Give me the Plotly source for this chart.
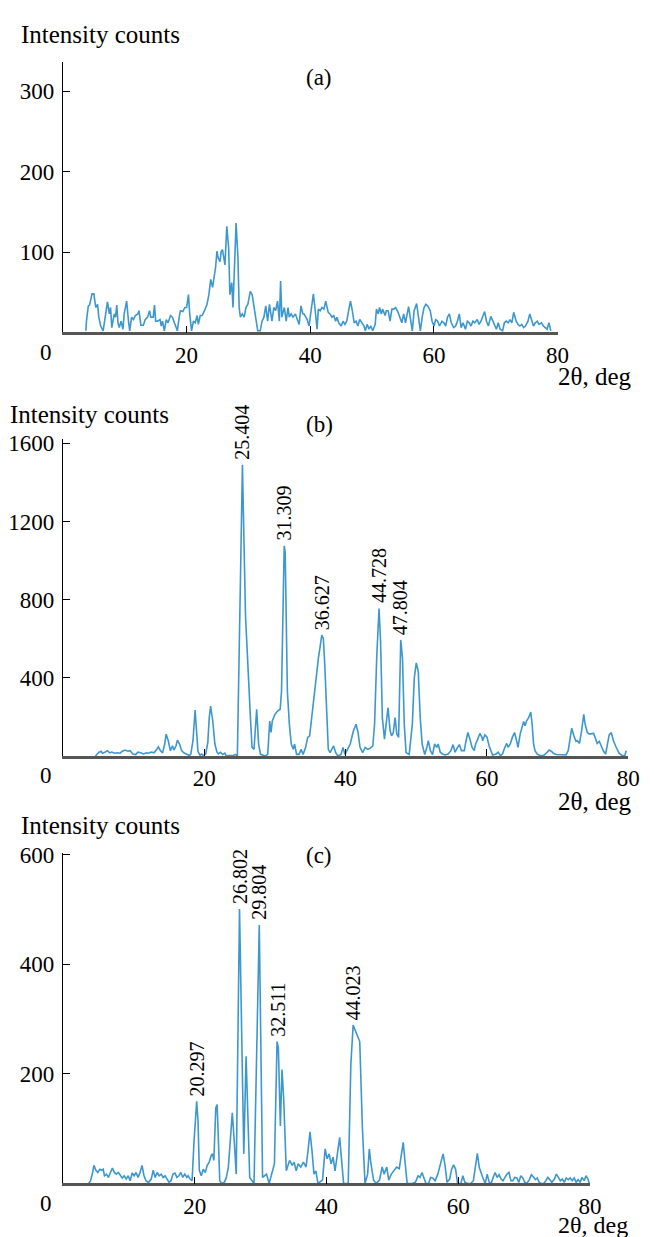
import plotly.graph_objects as go

# the page body has an 8px default margin; shift the figure content to compensate
W, H = 654, 1237
OFF = 8
FW, FH = W - OFF, H - OFF

# ---------------- data ----------------
a_x = [3.7,3.8,4.1,4.3,4.7,5.0,5.3,5.6,5.8,6.1,6.5,6.9,7.2,7.5,7.7,7.9,8.3,8.5,8.7,8.9,9.1,9.4,9.7,9.9,
       10.3,10.6,10.8,11.1,11.4,11.7,12.1,12.3,12.6,13.0,13.3,13.7,14.0,14.2,14.6,14.8,15.0,15.3,15.7,15.9,
       16.1,16.4,16.7,17.0,17.4,17.7,18.0,18.2,18.5,18.8,19.0,19.4,19.7,20.0,20.3,20.5,20.8,21.1,21.4,21.7,
       21.9,22.2,22.5,22.9,23.3,23.6,23.9,24.2,24.4,24.7,24.9,25.1,25.4,25.6,25.8,26.0,26.2,26.5,26.8,27.0,
       27.3,27.5,27.7,28.0,28.3,28.5,28.7,29.0,29.3,29.6,29.9,30.3,30.6,30.9,31.2,31.5,31.9,32.2,32.5,32.8,
       33.1,33.4,33.8,34.1,34.4,34.7,35.0,35.2,35.4,35.8,36.1,36.4,36.6,36.9,37.2,37.6,37.9,38.2,38.5,38.8,
       39.0,39.5,39.8,40.2,40.5,40.8,41.1,41.3,41.6,41.9,42.2,42.5,42.9,43.2,43.5,43.8,44.1,44.3,44.6,45.0,
       45.3,45.6,45.9,46.2,46.5,46.8,47.1,47.4,47.7,48.0,48.4,48.7,48.9,49.2,49.5,49.8,50.1,50.5,50.7,51.0,
       51.2,51.5,51.7,52.1,52.3,52.6,52.9,53.2,53.5,53.8,54.2,54.5,54.8,55.1,55.4,55.9,56.2,56.5,56.8,57.2,
       57.5,57.8,58.1,58.4,58.7,59.0,59.4,59.7,60.0,60.3,60.6,60.9,61.3,61.6,61.9,62.2,62.5,62.8,63.2,63.5,
       63.8,64.1,64.4,64.7,65.1,65.4,65.7,66.0,66.3,66.6,67.0,67.3,67.6,67.9,68.2,68.5,68.8,69.2,69.5,69.8,
       70.1,70.4,70.7,71.1,71.4,71.7,72.0,72.3,72.6,72.9,73.3,73.6,73.9,74.2,74.5,74.8,75.2,75.5,75.8,76.1,
       76.4,76.7,77.0,77.4,77.7,78.0,78.3,78.6,78.9]
a_y = [2,14,33,34,48,48,31,35,19,8,2,23,38,23,31,6,23,19,34,12,6,14,4,23,
       39,14,2,19,16,21,23,27,9,9,16,19,27,19,19,34,14,14,16,8,
       14,2,16,12,21,19,12,10,2,19,27,26,31,31,47,23,2,14,12,21,
       10,21,21,27,35,47,66,56,66,82,101,93,88,101,103,93,84,132,105,47,
       62,31,80,136,93,31,19,23,19,31,35,51,47,31,19,2,2,14,19,33,
       14,35,14,31,27,39,14,64,19,31,14,31,19,23,19,23,16,10,33,23,
       23,16,8,31,48,27,4,29,27,31,29,39,25,23,19,21,14,19,12,8,
       14,10,14,27,39,27,12,14,8,16,12,8,2,10,4,8,2,10,29,23,
       31,23,29,21,27,27,14,29,29,31,25,19,12,23,12,32,19,2,27,36,
       19,2,19,31,35,33,27,14,8,16,14,8,14,12,8,19,23,12,6,8,
       14,23,6,12,4,14,12,8,14,12,16,10,14,19,26,14,8,20,14,8,
       4,12,4,2,12,14,12,16,12,25,14,10,8,10,6,8,14,23,14,8,
       12,14,10,12,8,6,4,12,2]

b_x = [4.6,5.1,5.4,5.6,6.0,6.3,6.6,6.9,7.3,7.7,8.1,8.4,8.8,9.2,9.5,9.9,10.3,10.6,11.0,11.4,11.8,12.1,12.5,
       12.9,13.2,13.5,13.8,14.1,14.4,14.6,14.9,15.2,15.5,15.7,16.0,16.2,16.5,16.8,17.1,17.5,17.9,18.1,18.4,
       18.7,18.9,19.1,19.4,19.6,19.9,20.2,20.5,20.7,20.9,21.2,21.5,21.8,22.0,22.3,22.6,22.9,23.1,23.6,24.1,
       24.4,24.68,25.4,25.83,26.53,26.76,27.04,27.41,27.69,27.96,28.61,28.98,29.26,29.44,29.63,30.0,30.37,
       30.74,30.93,31.11,31.31,31.45,31.6,31.76,32.04,32.31,32.59,32.78,33.06,33.43,33.7,33.98,34.35,34.63,
       34.91,35.2,35.7,36.15,36.63,36.85,37.05,37.35,37.55,37.8,38.3,38.6,38.9,39.35,39.63,39.91,40.65,41.11,
       41.48,41.76,42.04,42.41,42.78,43.15,43.5,43.85,44.1,44.4,44.73,44.95,45.2,45.5,45.75,46.0,46.3,46.5,
       46.75,47.0,47.25,47.5,47.8,48.05,48.3,48.55,49.0,49.44,49.72,50.0,50.28,50.56,50.83,51.2,51.5,51.7,
       52.0,52.3,52.6,52.9,53.1,53.4,53.7,54.1,54.5,54.9,55.2,55.5,55.8,56.1,56.4,56.8,57.0,57.3,57.6,57.9,
       58.2,58.4,58.7,59.0,59.3,59.4,59.7,60.0,60.3,60.6,60.8,61.3,61.6,61.9,62.2,62.5,62.8,63.0,63.3,63.6,
       63.9,64.2,64.4,64.7,65.0,65.2,65.4,65.6,65.9,66.2,66.4,66.6,66.8,67.1,67.5,68.0,68.4,68.8,69.1,69.4,
       69.8,70.3,70.7,71.2,71.5,71.7,72.0,72.3,72.6,72.8,73.1,73.4,73.7,73.9,74.2,74.5,74.8,75.1,75.4,75.6,
       75.9,76.2,76.5,76.8,77.1,77.3,77.6,77.9,78.2,78.4,78.7,79.1,79.5,79.7]
b_y = [0,19,24,14,20,27,16,20,14,16,14,24,30,24,27,10,7,19,16,10,16,14,20,
       16,30,47,27,16,61,112,78,27,52,30,52,81,61,27,16,7,2,10,78,
       235,128,24,3,10,2,10,69,196,255,179,61,19,10,19,7,14,2,2,2,
       8,0,1491,721,196,44,34,239,61,8,0,8,179,120,179,213,230,
       239,331,670,1076,1043,670,331,162,61,34,61,8,8,34,8,44,95,
       103,196,331,501,619,602,467,162,34,17,51,17,0,8,44,8,61,129,
       162,120,44,17,44,34,40,51,162,501,755,585,196,86,162,247,129,103,
       120,196,112,95,594,501,162,17,8,162,399,476,433,196,61,7,44,78,
       27,7,61,44,61,19,10,5,10,27,58,19,41,58,27,27,69,120,86,44,
       27,61,86,115,95,78,108,98,52,19,5,10,19,2,10,41,64,44,61,95,
       120,78,44,112,154,176,154,179,196,225,162,61,27,10,2,2,14,30,24,14,
       7,5,5,5,27,78,142,103,75,78,64,129,213,162,120,112,115,115,86,64,
       75,44,24,10,61,108,120,78,52,36,14,3,0,27]

c_x = [3.9,4.2,4.5,4.7,5.0,5.3,5.6,5.9,6.1,6.3,6.6,6.9,7.2,7.5,7.8,8.1,8.4,8.7,9.0,9.3,9.6,9.9,10.2,10.5,
       10.8,11.1,11.4,11.7,12.0,12.3,12.6,13.0,13.4,13.7,14.0,14.3,14.6,14.9,15.2,15.5,15.8,16.1,16.4,16.7,
       17.0,17.3,17.6,17.9,18.2,18.5,18.8,19.0,19.3,19.6,19.9,20.3,20.5,20.7,21.0,21.3,21.6,21.9,22.2,22.5,
       22.7,22.9,23.2,23.4,23.6,23.8,24.1,24.5,24.8,25.1,25.4,25.7,26.0,26.3,26.8,27.45,27.8,28.35,29.0,29.8,
       30.3,30.9,31.3,32.1,32.5,32.7,33.0,33.25,33.5,33.9,34.4,34.8,35.1,35.4,35.7,36.1,36.5,36.9,37.2,37.5,
       37.8,38.1,38.4,38.7,39.4,39.8,40.1,40.4,40.7,41.0,41.3,41.7,42.0,42.3,42.6,43.3,43.7,44.05,44.45,45.05,
       45.45,45.85,46.25,46.5,46.75,47.15,47.55,48.05,48.45,48.75,49.15,49.45,49.85,50.25,50.65,51.05,51.35,
       51.65,51.95,52.25,53.0,53.5,53.9,54.2,54.5,54.8,55.1,55.5,55.8,56.1,56.5,56.9,57.3,57.7,58.0,58.3,58.7,
       59.0,59.3,59.6,59.9,60.4,60.7,61.0,61.4,61.9,62.3,62.6,62.9,63.2,63.5,63.8,64.1,64.4,64.7,65.0,65.3,
       65.6,65.9,66.2,66.5,66.8,67.1,67.4,67.7,68.0,68.3,68.6,68.9,69.2,69.5,69.8,70.1,70.4,70.8,71.1,71.4,
       71.7,72.0,72.3,72.6,73.0,73.3,73.6,73.9,74.2,74.6,74.9,75.2,75.5,75.8,76.1,76.4,76.7,77.0,77.3,77.6,
       77.9,78.2,78.5,78.8,79.1,79.4,79.7,79.9]
c_y = [0,5,20,33,24,20,26,24,26,14,17,11,20,28,20,17,20,14,10,14,8,14,5,19,
       14,20,11,20,33,14,5,2,8,24,11,20,14,17,11,14,7,2,5,17,
       19,11,14,20,11,17,11,14,8,5,78,150,114,24,14,26,20,33,39,51,
       54,42,138,144,78,5,0,2,11,29,78,129,78,17,501,54,232,11,0,472,
       11,17,0,36,259,247,105,208,156,23,42,33,39,23,36,30,39,30,60,94,
       60,17,23,0,6,63,45,54,36,48,23,60,84,42,0,0,217,289,277,259,
       102,0,17,63,36,6,0,6,30,17,30,6,17,23,30,27,48,
       75,36,0,0,2,14,11,20,11,0,0,11,10,5,17,36,54,33,2,8,
       26,34,26,0,0,14,2,0,0,5,29,55,29,17,8,0,17,2,0,11,
       20,11,16,8,5,11,17,20,5,5,11,10,2,14,10,2,0,7,16,12,
       7,10,2,0,0,5,11,7,2,8,17,11,5,8,2,10,7,10,5,10,
       2,7,2,11,5,14,8,0]

x_ticks = [20, 40, 60, 80]
a_yticks = [100, 200, 300]
b_yticks = [400, 800, 1200, 1600]
c_yticks = [200, 400, 600]

b_peaks = [25.404, 31.309, 36.627, 44.728, 47.804]
c_peaks = [20.297, 26.802, 29.804, 32.511, 44.023]

panel_labels = ["(a)", "(b)", "(c)"]
ylabel = "Intensity counts"
xlabel = "2θ, deg"

# ---------------- figure ----------------
LINE = "#3d97cf"
SERIF = "Liberation Serif"
TICK = 23
TXT = 25
fig = go.Figure()


def px(v):
    return (v - OFF) / FW


def py(v):
    return 1 - (v - OFF) / FH


panels = [
    dict(x=a_x, y=a_y, xd=(64, 568), yd=(52, 325), yr=337, yt=a_yticks,
         ylab=(19, 25), plab=(325, 68), xl=(566, 369, "left", TXT), zero=(47, 345)),
    dict(x=b_x, y=b_y, xd=(64, 640), yd=(432, 752), yr=1625, yt=b_yticks,
         ylab=(8, 408), plab=(325, 418), xl=(646, 798, "right", TXT), zero=(47, 772)),
    dict(x=c_x, y=c_y, xd=(64, 601), yd=(850, 1183), yr=603, yt=c_yticks,
         ylab=(19, 822), plab=(325, 852), xl=(566, 1225, "left", 24), zero=(47, 1203)),
]

annotations = []
for i, p in enumerate(panels):
    n = "" if i == 0 else str(i + 1)
    fig.add_trace(go.Scatter(x=p["x"], y=p["y"], mode="lines",
                             line=dict(color=LINE, width=1.6),
                             xaxis="x" + n, yaxis="y" + n, showlegend=False))
    fig.layout["xaxis" + n] = dict(
        domain=[px(p["xd"][0]), px(p["xd"][1])], anchor="y" + n, range=[0, 80],
        tickvals=x_ticks, ticks="inside", ticklen=7, tickwidth=1, tickcolor="black",
        showline=True, linecolor="#555555", linewidth=2.5, showgrid=False, zeroline=False,
        tickfont=dict(family=SERIF, size=TICK, color="black"), fixedrange=True)
    fig.layout["yaxis" + n] = dict(
        domain=[py(p["yd"][1]), py(p["yd"][0])], anchor="x" + n, range=[0, p["yr"]],
        tickvals=p["yt"], ticks="inside", ticklen=7, tickwidth=1, tickcolor="black",
        showline=True, linecolor="black", linewidth=1, showgrid=False, zeroline=False,
        ticklabelstandoff=3,
        tickfont=dict(family=SERIF, size=TICK, color="black"), fixedrange=True)
    annotations.append(dict(xref="paper", yref="paper", x=px(p["ylab"][0]), y=py(p["ylab"][1]),
                            xanchor="left", yanchor="middle", text=ylabel, showarrow=False,
                            font=dict(family=SERIF, size=TXT, color="black")))
    annotations.append(dict(xref="paper", yref="paper", x=px(p["plab"][0]), y=py(p["plab"][1]),
                            xanchor="center", yanchor="middle", text=panel_labels[i], showarrow=False,
                            font=dict(family=SERIF, size=TICK, color="black")))
    annotations.append(dict(xref="paper", yref="paper", x=px(p["xl"][0]), y=py(p["xl"][1]),
                            xanchor=p["xl"][2], yanchor="middle", text=xlabel, showarrow=False,
                            font=dict(family=SERIF, size=p["xl"][3], color="black")))
    annotations.append(dict(xref="paper", yref="paper", x=px(p["zero"][0]), y=py(p["zero"][1]),
                            xanchor="center", yanchor="middle", text="0", showarrow=False,
                            font=dict(family=SERIF, size=TICK, color="black")))


def peak_height(xs, ys, xp):
    best = min(range(len(xs)), key=lambda k: abs(xs[k] - xp))
    lo, hi = max(0, best - 2), min(len(xs), best + 3)
    return max(ys[lo:hi])


for n, xs, ys, peaks in [("2", b_x, b_y, b_peaks), ("3", c_x, c_y, c_peaks)]:
    for pk in peaks:
        annotations.append(dict(xref="x" + n, yref="y" + n, x=pk, y=peak_height(xs, ys, pk),
                                xanchor="center", yanchor="bottom", yshift=3, textangle=-90,
                                text=f"{pk:.3f}", showarrow=False,
                                font=dict(family=SERIF, size=20, color="black")))

fig.update_layout(width=FW, height=FH, margin=dict(l=0, r=0, t=0, b=0),
                  paper_bgcolor="white", plot_bgcolor="white",
                  annotations=annotations, showlegend=False)

fig.write_html("out.html")
